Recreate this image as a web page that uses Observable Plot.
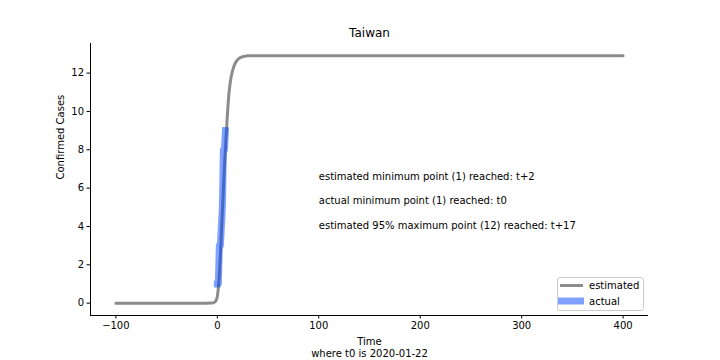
<!DOCTYPE html>
<html>
<head>
<meta charset="utf-8">
<script src="https://cdn.jsdelivr.net/npm/d3@7"></script>
<script src="https://cdn.jsdelivr.net/npm/@observablehq/plot@0.6"></script>
<style>
  html, body { margin: 0; padding: 0; background: #fff; }
  #chart { width: 720px; height: 360px; }
</style>
</head>
<body>
<div id="chart"></div>
<script>
// ---- data ----
const titleText = "Taiwan";
const estT = [-100, -20, -5, -2, 0, 1, 2, 3, 4, 5, 6, 7, 8, 9, 10, 11, 12, 13, 14, 15, 16, 18, 20, 22, 24, 27, 30, 40, 100, 200, 300, 400];
const estV = [0, 0, 0.01, 0.08, 0.35, 0.8, 1.5, 2.5, 3.6, 4.8, 6.0, 7.1, 8.1, 9.0, 9.9, 10.65, 11.2, 11.6, 11.9, 12.12, 12.3, 12.55, 12.7, 12.79, 12.84, 12.88, 12.9, 12.9, 12.9, 12.9, 12.9, 12.9];
const actT = [0, 1, 2, 3, 4, 5, 6, 7, 8];
const actV = [1, 1, 3, 3, 4, 5, 8, 8, 9];
const notes = [
  "estimated minimum point (1) reached: t+2",
  "actual minimum point (1) reached: t0",
  "estimated 95% maximum point (12) reached: t+17"
];
const noteX = [100, 100, 100];
const noteY = [6.45, 5.16, 3.87];
const xTicks = [-100, 0, 100, 200, 300, 400];
const yTicks = [0, 2, 4, 6, 8, 10, 12];
const xDomain = [-125, 425];
const yDomain = [-0.645, 13.545];
const seriesNames = ["estimated", "actual"];

const estimated = estT.map((t, i) => ({t, v: estV[i]}));
const actual = actT.map((t, i) => ({t, v: actV[i]}));
const noteData = notes.map((text, i) => ({text, x: noteX[i], y: noteY[i]}));

const grayColor = "#8c8c8c";
const blueColor = "#0044ff";

const chart = Plot.plot({
  width: 720,
  height: 360,
  marginTop: 43,
  marginBottom: 45,
  marginLeft: 90,
  marginRight: 72,
  style: {fontFamily: "DejaVu Sans", fontSize: "10px", color: "#000", background: "#fff"},
  x: {domain: xDomain, ticks: xTicks},
  y: {domain: yDomain, ticks: yTicks},
  marks: [
    Plot.axisX({ticks: xTicks, tickSize: 3.5, tickPadding: 3, label: null, fontSize: 10, tickFormat: d => d < 0 ? "\u2212" + Math.abs(d) : String(d)}),
    Plot.axisY({ticks: yTicks, tickSize: 3.5, tickPadding: 3, label: null, fontSize: 10}),
    Plot.ruleX([xDomain[0]], {stroke: "#000", strokeWidth: 1}),
    Plot.ruleY([yDomain[0]], {stroke: "#000", strokeWidth: 1}),
    Plot.line(estimated, {x: "t", y: "v", stroke: grayColor, strokeWidth: 3, curve: "monotone-x"}),
    Plot.line(actual, {x: "t", y: "v", stroke: blueColor, strokeOpacity: 0.5, strokeWidth: 7, strokeLinecap: "square", strokeLinejoin: "round"}),
    Plot.text(noteData, {x: "x", y: "y", text: "text", textAnchor: "start", lineAnchor: "bottom", fontSize: 10, fill: "#000"}),
    Plot.text([titleText], {frameAnchor: "top", dy: -15, fontSize: 12, fill: "#000"}),
    Plot.text(["Confirmed Cases"], {frameAnchor: "left", dx: -30, rotate: -90, fontSize: 10, fill: "#000"}),
    Plot.text(["Time\nwhere t0 is 2020-01-22"], {frameAnchor: "bottom", dy: 41, fontSize: 10, lineHeight: 1.2, fill: "#000"})
  ]
});

// legend (inside the axes, lower right)
const svg = d3.select(chart);
const lg = svg.append("g").attr("font-family", "DejaVu Sans").attr("font-size", 10).attr("text-anchor", "start");
lg.append("rect").attr("x", 557.5).attr("y", 277.5).attr("width", 86).attr("height", 33)
  .attr("rx", 2.5).attr("fill", "#fff").attr("fill-opacity", 0.8).attr("stroke", "#cccccc");
lg.append("line").attr("x1", 560).attr("x2", 583).attr("y1", 285.5).attr("y2", 285.5)
  .attr("stroke", grayColor).attr("stroke-width", 3);
lg.append("line").attr("x1", 561.5).attr("x2", 580.5).attr("y1", 301).attr("y2", 301)
  .attr("stroke", blueColor).attr("stroke-opacity", 0.5).attr("stroke-width", 7).attr("stroke-linecap", "square");
lg.append("text").attr("x", 589).attr("y", 289).attr("fill", "#000").attr("text-anchor", "start").text(seriesNames[0]);
lg.append("text").attr("x", 589).attr("y", 304.5).attr("fill", "#000").attr("text-anchor", "start").text(seriesNames[1]);

document.getElementById("chart").appendChild(chart);
</script>
</body>
</html>
